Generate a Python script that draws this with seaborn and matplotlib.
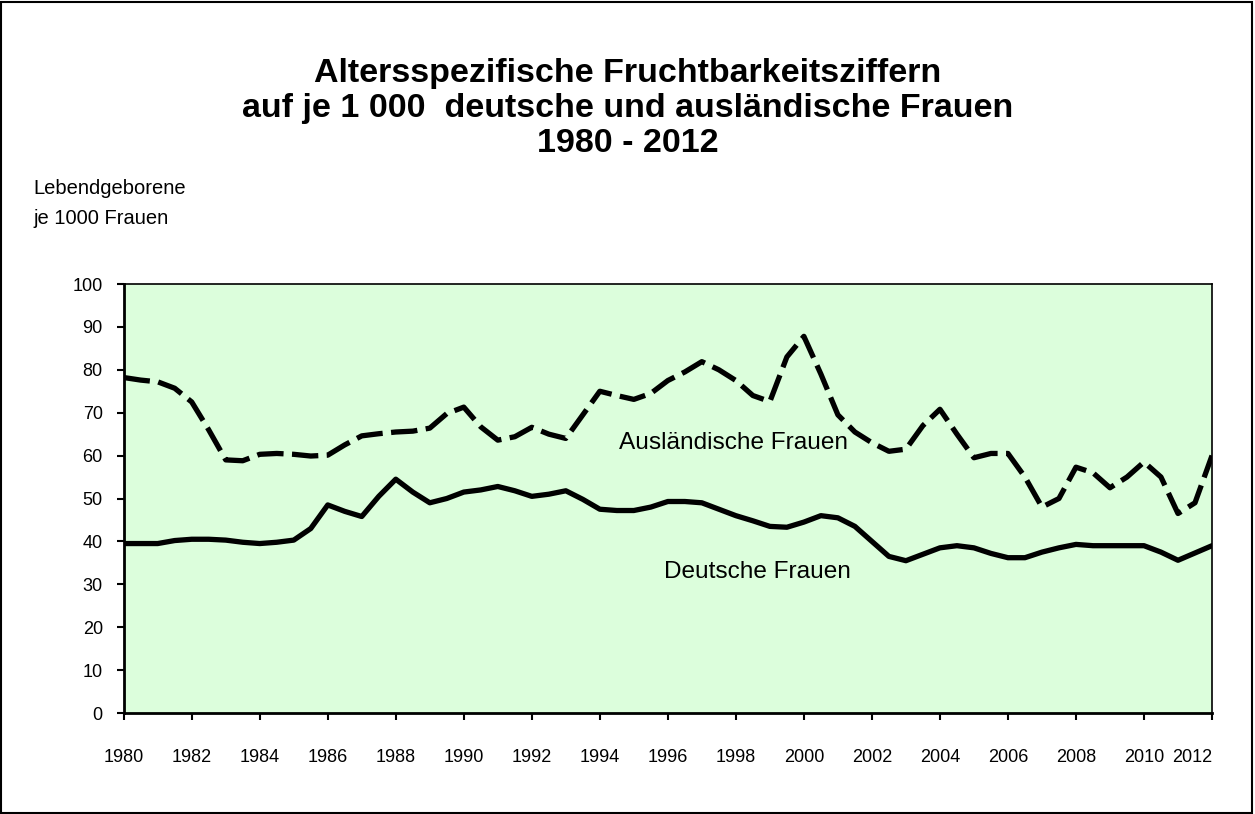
import matplotlib
matplotlib.use("Agg")
import matplotlib.pyplot as plt
import seaborn as sns
import numpy as np
import pandas as pd
from matplotlib.patches import Rectangle

# half-year steps 1980.0 .. 2012.0
years = np.arange(1980, 2012.01, 0.5)

deutsche = [
    39.5, 39.5, 39.5, 40.2, 40.5, 40.5, 40.3, 39.8, 39.5, 39.8,
    40.3, 43.0, 48.5, 47.0, 45.8, 50.5, 54.5, 51.5, 49.0, 50.0,
    51.5, 52.0, 52.8, 51.8, 50.5, 51.0, 51.8, 49.8, 47.5, 47.2,
    47.2, 48.0, 49.3, 49.3, 49.0, 47.5, 46.0, 44.8, 43.5, 43.3,
    44.5, 46.0, 45.5, 43.5, 40.0, 36.5, 35.5, 37.0, 38.5, 39.0,
    38.5, 37.2, 36.2, 36.2, 37.5, 38.5, 39.3, 39.0, 39.0, 39.0,
    39.0, 37.5, 35.6, 37.3, 39.0,
]
auslaendische = [
    78.2, 77.6, 77.2, 75.7, 72.5, 66.0, 59.0, 58.8, 60.3, 60.5,
    60.3, 59.9, 60.1, 62.5, 64.6, 65.1, 65.5, 65.7, 66.4, 69.8,
    71.3, 66.7, 63.6, 64.4, 66.6, 65.0, 64.0, 69.5, 75.0, 74.0,
    73.1, 74.5, 77.5, 79.5, 81.9, 80.0, 77.5, 74.0, 72.6, 83.0,
    87.8, 79.0, 69.5, 65.5, 63.0, 61.0, 61.5, 67.0, 70.8, 65.0,
    59.5, 60.5, 60.5, 55.0, 48.0, 50.0, 57.3, 56.0, 52.5, 55.0,
    58.5, 55.0, 46.5, 49.0, 60.0,
]

tick_years = list(range(1980, 2013, 2))
tick_labels = [str(y) for y in tick_years]

df = pd.DataFrame({"Jahr": years, "Deutsche": deutsche, "Auslaendische": auslaendische})

sns.set_theme(style="white")
plt.rcParams['font.family'] = ['Liberation Sans', 'DejaVu Sans']
plt.rcParams['text.color'] = 'black'

fig = plt.figure(figsize=(12.55, 8.14), dpi=100)
ax = fig.add_axes([123.7 / 1255, 1 - 713 / 814, (1212 - 123.7) / 1255, (713 - 284) / 814])
ax.set_facecolor("#dcfedc")

sns.lineplot(data=df, x="Jahr", y="Auslaendische", ax=ax, color="black",
             linewidth=3.8, linestyle=(0, (5, 1.6)), solid_capstyle="butt")
sns.lineplot(data=df, x="Jahr", y="Deutsche", ax=ax, color="black",
             linewidth=3.8, solid_capstyle="round")

ax.set_xlim(1980, 2012)
ax.set_ylim(0, 100)
ax.set_yticks(range(0, 101, 10))
ax.set_xticks(tick_years)
ax.set_xticklabels(tick_labels)
# last label sits left of its tick in the original
ax.get_xticklabels()[-1].set_horizontalalignment("right")
ax.set_xlabel("")
ax.set_ylabel("")

for s in ax.spines.values():
    s.set_color("black")
    s.set_linewidth(1.2)
ax.spines["left"].set_linewidth(2)
ax.spines["bottom"].set_linewidth(2)
ax.tick_params(axis="both", which="major", direction="out", length=5, width=1.5,
               color="black", labelsize=13, labelcolor="black", left=True, bottom=True)
ax.tick_params(axis="x", pad=21)
ax.tick_params(axis="y", pad=10)

ax.text(1994.55, 62.9, "Ausländische Frauen", fontsize=17.6, va="center", ha="left")
ax.text(1995.9, 32.9, "Deutsche Frauen", fontsize=17.6, va="center", ha="left")

title_lines = [
    "Altersspezifische Fruchtbarkeitsziffern",
    "auf je 1 000  deutsche und ausländische Frauen",
    "1980 - 2012",
]
for i, line in enumerate(title_lines):
    fig.text(0.5, 1 - (82 + 35 * i) / 814, line, ha="center", va="baseline",
             fontsize=24.5, fontweight="bold")

fig.text(33 / 1255, 1 - 194 / 814, "Lebendgeborene", fontsize=14.5, va="baseline")
fig.text(33 / 1255, 1 - 224 / 814, "je 1000 Frauen", fontsize=14.5, va="baseline")

fig.patches.append(Rectangle((0.001, 0.001), 0.997, 0.997, transform=fig.transFigure,
                             fill=False, edgecolor="black", linewidth=1.5))

fig.savefig("out.png", dpi=100, facecolor="white")
